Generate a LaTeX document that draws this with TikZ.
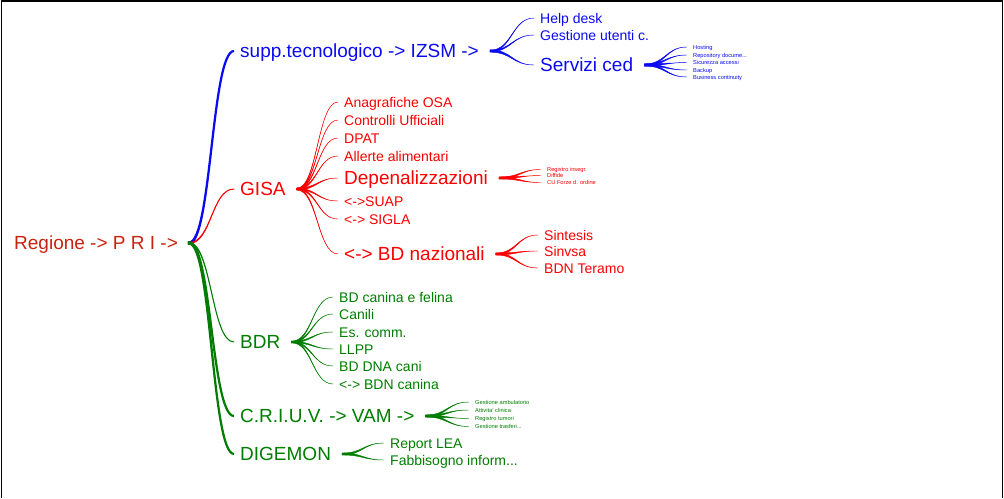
\documentclass[tikz,border=0pt]{standalone}
\usepackage{fontspec}
\setmainfont{Liberation Sans}
\usepackage{xcolor}
\usetikzlibrary{calc}
\definecolor{mmroot}{RGB}{200,35,15}
\definecolor{mmblue}{RGB}{10,10,240}
\definecolor{mmred}{RGB}{250,0,0}
\definecolor{mmgreen}{RGB}{0,125,0}
\tikzset{every node/.style={anchor=west,inner sep=2pt},
 big/.style={font=\fontsize{19}{20}\selectfont,text height=17pt,text depth=4pt},
 mid/.style={font=\fontsize{14}{15}\selectfont,text height=13pt,text depth=3pt},
 tiny/.style={font=\fontsize{5.7}{6}\selectfont,text height=5pt,text depth=1pt},
 }
% tapered branch: [stroke], parent, child, colour, half width at the parent
\newcommand{\mmbranch}[5][.4pt]{
 \coordinate (o) at ($(#2.east)+(9,0)$);
 \coordinate (e) at ($(#3.west)+(-4,0)$);
 \coordinate (m) at ($(o)!.5!(e)$);
 \coordinate (c1) at (m|-o);
 \coordinate (c2) at (m|-e);
 \fill[#4,draw=#4,line width=#1] ($(o)+(0,#5)$) .. controls ($(c1)+(0,#5)$) and (c2) .. (e)
 .. controls (c2) and ($(c1)-(0,#5)$) .. ($(o)-(0,#5)$) -- cycle;
}

\begin{document}
\begin{tikzpicture}[x=1pt,y=-1pt]
        \useasboundingbox (0,0) rectangle (1004,498);
        \draw [line width=1.5pt] (1.5,498) -- (1.5,1.2) -- (1002.5,1.2) -- (1002.5,498);
        % main branches
        \node [big,mmroot] (root) at (12,243) {Regione -> P R I ->};
        \node [big,mmblue] (supp) at (238,51) {supp.tecnologico -> IZSM ->};
        \node [big,mmred] (gisa) at (238,189) {GISA};
        \node [big,mmgreen] (bdr) at (238,342) {BDR};
        \node [big,mmgreen] (criuv) at (238,416) {C.R.I.U.V. -> VAM ->};
        \node [big,mmgreen] (digemon) at (238,454) {DIGEMON};
        % supp.tecnologico
        \node [mid,mmblue] (help) at (538,18) {Help desk};
        \node [mid,mmblue] (utenti) at (538,35) {Gestione utenti c.};
        \node [big,mmblue] (ced) at (538,65) {Servizi ced};
        \node [tiny,mmblue] (ced1) at (691,47) {Hosting};
        \node [tiny,mmblue] (ced2) at (691,55) {Repository docume...};
        \node [tiny,mmblue] (ced3) at (691,62.5) {Sicurezza accessi};
        \node [tiny,mmblue] (ced4) at (691,70) {Backup};
        \node [tiny,mmblue] (ced5) at (691,77) {Business continuity};
        % GISA
        \node [mid,mmred] (osa) at (342,102) {Anagrafiche OSA};
        \node [mid,mmred] (cu) at (342,120) {Controlli Ufficiali};
        \node [mid,mmred] (dpat) at (342,138) {DPAT};
        \node [mid,mmred] (allerte) at (342,156) {Allerte alimentari};
        \node [big,mmred] (depen) at (342,178) {Depenalizzazioni};
        \node [mid,mmred] (suap) at (342,201) {<->SUAP};
        \node [mid,mmred] (sigla) at (342,219) {<-> SIGLA};
        \node [big,mmred] (bdnaz) at (342,254) {<-> BD nazionali};
        \node [tiny,mmred] (dep1) at (545,169.5) {Registro insegr.};
        \node [tiny,mmred] (dep2) at (545,175.5) {Diffide};
        \node [tiny,mmred] (dep3) at (545,182.5) {CU Forze d. ordine};
        \node [mid,mmred] (sintesis) at (542,235) {Sintesis};
        \node [mid,mmred] (sinvsa) at (542,251) {Sinvsa};
        \node [mid,mmred] (bdnte) at (542,268) {BDN Teramo};
        % BDR
        \node [mid,mmgreen] (bdcf) at (337,297) {BD canina e felina};
        \node [mid,mmgreen] (canili) at (337,314) {Canili};
        \node [mid,mmgreen] (escomm) at (337,332) {Es. comm.};
        \node [mid,mmgreen] (llpp) at (337,349) {LLPP};
        \node [mid,mmgreen] (bddna) at (337,366) {BD DNA cani};
        \node [mid,mmgreen] (bdnc) at (337,384) {<-> BDN canina};
        % C.R.I.U.V.
        \node [tiny,mmgreen] (vam1) at (473,402) {Gestione ambulatorio};
        \node [tiny,mmgreen] (vam2) at (473,410) {Attivita' clinica};
        \node [tiny,mmgreen] (vam3) at (473,418.5) {Registro tumori};
        \node [tiny,mmgreen] (vam4) at (473,426.5) {Gestione trasferi...};
        % DIGEMON
        \node [mid,mmgreen] (lea) at (388,443) {Report LEA};
        \node [mid,mmgreen] (fabb) at (388,460) {Fabbisogno inform...};
        % branches
        \mmbranch[2.2pt]{root}{supp}{mmblue}{.5}
        \mmbranch[1pt]{root}{gisa}{mmred}{.4}
        \mmbranch[1pt]{root}{bdr}{mmgreen}{.4}
        \mmbranch[2.2pt]{root}{criuv}{mmgreen}{.5}
        \mmbranch[2.2pt]{root}{digemon}{mmgreen}{.5}
        \mmbranch{supp}{help}{mmblue}{.8}
        \mmbranch{supp}{utenti}{mmblue}{.8}
        \mmbranch{supp}{ced}{mmblue}{1.2}
        \mmbranch{ced}{ced1}{mmblue}{1}
        \mmbranch{ced}{ced2}{mmblue}{1}
        \mmbranch{ced}{ced3}{mmblue}{1}
        \mmbranch{ced}{ced4}{mmblue}{1}
        \mmbranch{ced}{ced5}{mmblue}{1}
        \mmbranch{gisa}{osa}{mmred}{.8}
        \mmbranch{gisa}{cu}{mmred}{.8}
        \mmbranch{gisa}{dpat}{mmred}{.8}
        \mmbranch{gisa}{allerte}{mmred}{.8}
        \mmbranch{gisa}{depen}{mmred}{1}
        \mmbranch{gisa}{suap}{mmred}{.8}
        \mmbranch{gisa}{sigla}{mmred}{.8}
        \mmbranch{gisa}{bdnaz}{mmred}{1}
        \mmbranch{depen}{dep1}{mmred}{1}
        \mmbranch{depen}{dep2}{mmred}{1}
        \mmbranch{depen}{dep3}{mmred}{1}
        \mmbranch{bdnaz}{sintesis}{mmred}{1}
        \mmbranch{bdnaz}{sinvsa}{mmred}{1}
        \mmbranch{bdnaz}{bdnte}{mmred}{1}
        \mmbranch{bdr}{bdcf}{mmgreen}{.8}
        \mmbranch{bdr}{canili}{mmgreen}{.8}
        \mmbranch{bdr}{escomm}{mmgreen}{.8}
        \mmbranch{bdr}{llpp}{mmgreen}{.8}
        \mmbranch{bdr}{bddna}{mmgreen}{.8}
        \mmbranch{bdr}{bdnc}{mmgreen}{.8}
        \mmbranch{criuv}{vam1}{mmgreen}{1}
        \mmbranch{criuv}{vam2}{mmgreen}{1}
        \mmbranch{criuv}{vam3}{mmgreen}{1}
        \mmbranch{criuv}{vam4}{mmgreen}{1}
        \mmbranch{digemon}{lea}{mmgreen}{1}
        \mmbranch{digemon}{fabb}{mmgreen}{1}
    \end{tikzpicture}
\end{document}
